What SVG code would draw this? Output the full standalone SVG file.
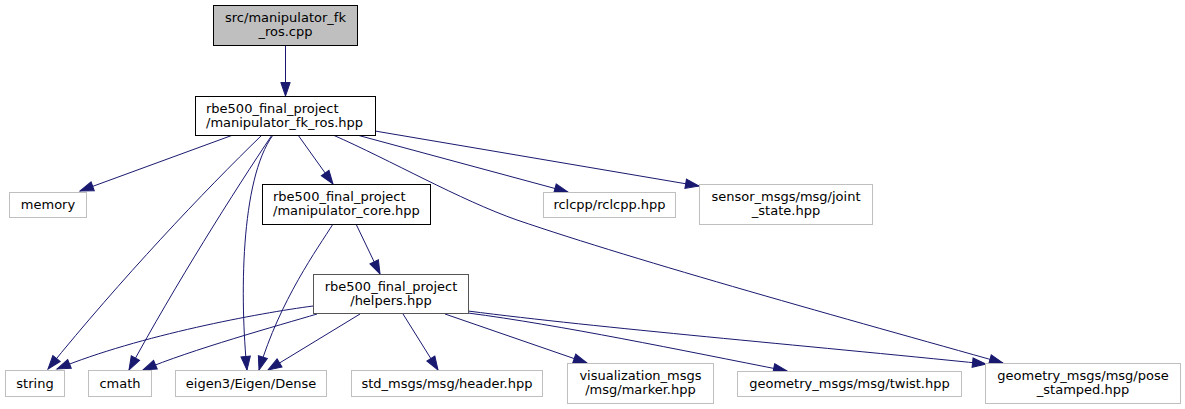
<svg xmlns="http://www.w3.org/2000/svg" width="1185" height="409" viewBox="0 0 1185 409">
<style>
  .box { fill: #ffffff; stroke: #000000; stroke-width: 1; }
  .ext { fill: #ffffff; stroke: #bfbfbf; stroke-width: 1; }
  .main { fill: #bfbfbf; stroke: #000000; stroke-width: 1; }
  .inc { fill: #ffffff; stroke: #555555; stroke-width: 1; }
  text { font-family: "DejaVu Sans", "Liberation Sans", sans-serif; font-size: 13px; fill: #000000; }
  .c { text-anchor: middle; }
  .l { text-anchor: start; }
  .edge { fill: none; stroke: #191970; stroke-width: 1; marker-end: url(#arr); }
</style>
<defs>
  <marker id="arr" markerUnits="userSpaceOnUse" viewBox="0 -6 15 12" refX="14" refY="0" markerWidth="15" markerHeight="12" orient="auto" overflow="visible">
    <path d="M0.5,-4.7 L14,0 L0.5,4.7 Z" fill="#191970" stroke="#191970" stroke-width="1"/>
  </marker>
</defs>
<rect width="1185" height="409" fill="#ffffff"/>
<g id="edges">
  <path class="edge" d="M285.5,45 L285.5,96"/>
  <path class="edge" d="M233,135 L80,191"/>
  <path class="edge" d="M262,135 C205,190 120,280 48,369"/>
  <path class="edge" d="M272,135 C235,190 175,285 129,370"/>
  <path class="edge" d="M273,135 C240,180 240,300 247,370"/>
  <path class="edge" d="M298,135 L333,184"/>
  <path class="edge" d="M357,135 L568,192"/>
  <path class="edge" d="M375,131 L699,186"/>
  <path class="edge" d="M333,135 C390,160 460,200 517,220 C640,262 850,320 1003,363"/>
  <path class="edge" d="M356,224 L380,274"/>
  <path class="edge" d="M333,224 C318,248 280,300 259,370"/>
  <path class="edge" d="M313,306 C260,313 140,335 57,369"/>
  <path class="edge" d="M317,314 C280,325 190,350 143,370"/>
  <path class="edge" d="M360,314 L268,370"/>
  <path class="edge" d="M403,314 L438,370"/>
  <path class="edge" d="M445,314 L587,363"/>
  <path class="edge" d="M468,313 C560,325 680,350 787,371"/>
  <path class="edge" d="M468,311 C600,328 800,345 986,364"/>
</g>
<g id="node_cpp">
  <rect class="main" x="213.5" y="5.5" width="144" height="40"/>
  <text class="c" x="285.5" y="22">src/manipulator_fk</text>
  <text class="c" x="285.5" y="36">_ros.cpp</text>
</g>
<g id="node_fk_ros_hpp">
  <rect class="box" x="195.5" y="96.5" width="180" height="39"/>
  <text class="l" x="206" y="113">rbe500_final_project</text>
  <text class="l" x="206" y="127">/manipulator_fk_ros.hpp</text>
</g>
<g id="node_memory">
  <rect class="ext" x="9.5" y="192.5" width="77" height="25"/>
  <text class="c" x="48" y="209">memory</text>
</g>
<g id="node_core">
  <rect class="box" x="262.5" y="184.5" width="168" height="40"/>
  <text class="l" x="273" y="201">rbe500_final_project</text>
  <text class="l" x="273" y="215">/manipulator_core.hpp</text>
</g>
<g id="node_rclcpp">
  <rect class="ext" x="543.5" y="192.5" width="132" height="25"/>
  <text class="c" x="609.5" y="209">rclcpp/rclcpp.hpp</text>
</g>
<g id="node_joint_state">
  <rect class="ext" x="699.5" y="184.5" width="173" height="40"/>
  <text class="c" x="786" y="201">sensor_msgs/msg/joint</text>
  <text class="c" x="786" y="215">_state.hpp</text>
</g>
<g id="node_helpers">
  <rect class="inc" x="313.5" y="274.5" width="155" height="39"/>
  <text class="c" x="391" y="291">rbe500_final_project</text>
  <text class="c" x="391" y="305">/helpers.hpp</text>
</g>
<g id="node_string">
  <rect class="ext" x="5.5" y="370.5" width="59" height="26"/>
  <text class="c" x="35" y="387.5">string</text>
</g>
<g id="node_cmath">
  <rect class="ext" x="88.5" y="370.5" width="63" height="26"/>
  <text class="c" x="120" y="387.5">cmath</text>
</g>
<g id="node_dense">
  <rect class="ext" x="175.5" y="370.5" width="151" height="26"/>
  <text class="c" x="251" y="387.5">eigen3/Eigen/Dense</text>
</g>
<g id="node_header">
  <rect class="ext" x="351.5" y="370.5" width="191" height="26"/>
  <text class="c" x="447" y="387.5">std_msgs/msg/header.hpp</text>
</g>
<g id="node_marker">
  <rect class="ext" x="567.5" y="363.5" width="146" height="40"/>
  <text class="c" x="640.5" y="380">visualization_msgs</text>
  <text class="c" x="640.5" y="394">/msg/marker.hpp</text>
</g>
<g id="node_twist">
  <rect class="ext" x="737.5" y="371.5" width="224" height="25"/>
  <text class="c" x="849.5" y="388">geometry_msgs/msg/twist.hpp</text>
</g>
<g id="node_pose">
  <rect class="ext" x="985.5" y="363.5" width="195" height="40"/>
  <text class="c" x="1083" y="380">geometry_msgs/msg/pose</text>
  <text class="c" x="1083" y="394">_stamped.hpp</text>
</g>
</svg>
